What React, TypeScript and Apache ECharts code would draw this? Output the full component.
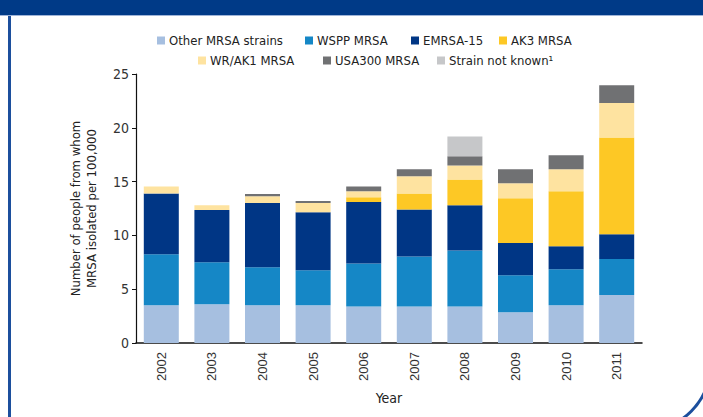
import React, { useEffect, useRef } from "react";
import * as echarts from "echarts";

const years = ["2002", "2003", "2004", "2005", "2006", "2007", "2008", "2009", "2010", "2011"];
const otherStrains = [3.5, 3.6, 3.5, 3.5, 3.4, 3.4, 3.4, 2.85, 3.5, 4.45];
const wspp = [4.75, 3.9, 3.55, 3.25, 4.0, 4.65, 5.2, 3.45, 3.35, 3.35];
const emrsa15 = [5.65, 4.85, 5.95, 5.4, 5.7, 4.35, 4.2, 3.0, 2.15, 2.3];
const ak3 = [0, 0, 0, 0, 0.45, 1.5, 2.4, 4.15, 5.1, 9.0];
const wrAk1 = [0.65, 0.45, 0.65, 0.85, 0.55, 1.6, 1.3, 1.4, 2.05, 3.2];
const usa300 = [0, 0, 0.2, 0.2, 0.45, 0.65, 0.85, 1.3, 1.3, 1.65];
const unknown = [0, 0, 0, 0, 0, 0, 1.85, 0, 0, 0];

const seriesNames = [
  "Other MRSA strains",
  "WSPP MRSA",
  "EMRSA-15",
  "AK3 MRSA",
  "WR/AK1 MRSA",
  "USA300 MRSA",
  "Strain not known¹",
];
const seriesData = [otherStrains, wspp, emrsa15, ak3, wrAk1, usa300, unknown];
const colors = ["#a6bfe0", "#1587c6", "#003685", "#fdc825", "#fee3a0", "#707173", "#c6c7c9"];
const yTicks = [0, 5, 10, 15, 20, 25];

const FONT = "'DejaVu Sans Condensed', 'Liberation Sans Narrow', 'DejaVu Sans', sans-serif";

// legend item placement (left, top)
const legendPos: [number, number][] = [
  [157, 34],
  [305, 34],
  [411, 34],
  [499, 34],
  [198, 54],
  [323, 54],
  [437, 54],
];

export default function App() {
  const ref = useRef<HTMLDivElement>(null);
  useEffect(() => {
    if (!ref.current) return;
    const chart = echarts.init(ref.current, undefined, { renderer: "svg" });
    const option: any = {
      animation: false,
      backgroundColor: "#ffffff",
      color: colors,
      legend: seriesNames.map((n, i) => ({
        data: [n],
        left: legendPos[i][0],
        top: legendPos[i][1],
        icon: "rect",
        itemWidth: 8,
        itemHeight: 8,
        padding: 0,
        itemGap: 0,
        selectedMode: false,
        textStyle: { fontFamily: FONT, fontSize: 13, color: "#222", padding: [0, 0, 0, -1] },
      })),
      grid: { left: 136, right: 61, top: 74, bottom: 74, containLabel: false },
      xAxis: {
        type: "category",
        data: years,
        name: "Year",
        nameLocation: "middle",
        nameGap: 48,
        nameTextStyle: { fontFamily: FONT, fontSize: 14, color: "#222" },
        axisLine: { lineStyle: { color: "#111", width: 1.5 } },
        axisTick: { show: false },
        axisLabel: {
          rotate: 90,
          margin: 9,
          fontFamily: "'Liberation Sans', Arial, sans-serif",
          fontSize: 13,
          color: "#333",
        },
      },
      yAxis: {
        type: "value",
        min: 0,
        max: 25,
        interval: 5,
        name: "Number of people from whom\nMRSA isolated per 100,000",
        nameLocation: "middle",
        nameGap: 37,
        nameTextStyle: { fontFamily: FONT, fontSize: 13, color: "#222", lineHeight: 16 },
        axisLine: { show: true, lineStyle: { color: "#111", width: 1.2 } },
        axisTick: { show: true, length: 4, lineStyle: { color: "#111" } },
        splitLine: { show: false },
        axisLabel: {
          margin: 7,
          fontFamily: FONT,
          fontSize: 14,
          color: "#333",
          formatter: (v: number) => (yTicks.includes(v) ? String(v) : ""),
        },
      },
      series: seriesNames.map((n, i) => ({
        name: n,
        type: "bar",
        stack: "total",
        barWidth: 35,
        data: seriesData[i],
        itemStyle: { color: colors[i] },
      })),
      graphic: [
        {
          type: "rect",
          z: 10,
          shape: { x: 9.5, y: -20, width: 700.5, height: 450, r: [0, 0, 64, 0] },
          style: { fill: "none", stroke: "#1c4f9d", lineWidth: 3 },
          silent: true,
        },
        {
          type: "rect",
          z: 11,
          shape: { x: 0, y: 0, width: 703, height: 15 },
          style: { fill: "#003a87" },
          silent: true,
        },
        {
          type: "line",
          z: 11,
          shape: { x1: 0, y1: 15.5, x2: 703, y2: 15.5 },
          style: { stroke: "#9fb4d8", lineWidth: 1 },
          silent: true,
        },
      ],
    };
    chart.setOption(option);
    return () => chart.dispose();
  }, []);
  return (
    <div
      ref={ref}
      style={{ position: "absolute", left: 0, top: 0, width: 703, height: 417 }}
    />
  );
}
